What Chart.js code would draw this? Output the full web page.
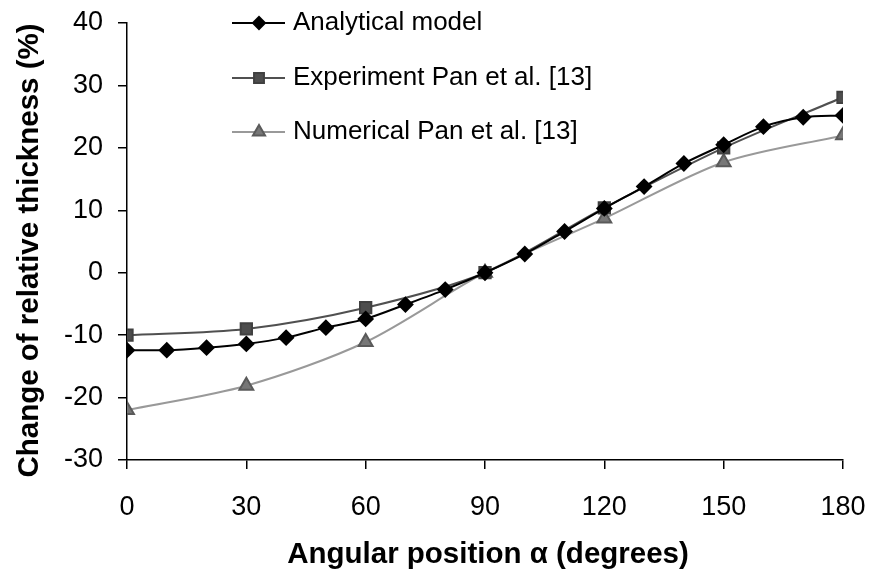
<!DOCTYPE html>
<html>
<head>
<meta charset="utf-8">
<script src="https://cdn.jsdelivr.net/npm/chart.js@4/dist/chart.umd.min.js"></script>
<style>
  html, body { margin: 0; padding: 0; background: #fff; }
  #wrap { width: 872px; height: 573px; }
</style>
</head>
<body>
<div id="wrap"><canvas id="myChart" width="872" height="573"></canvas></div>
<script>
// angoli in gradi
const analyticalAngles = [0, 10, 20, 30, 40, 50, 60, 70, 80, 90, 100, 110, 120, 130, 140, 150, 160, 170, 180];
const analyticalValues = [-12.4, -12.4, -12.0, -11.4, -10.4, -8.8, -7.4, -5.1, -2.7, 0, 3.0, 6.6, 10.3, 13.8, 17.5, 20.5, 23.4, 24.9, 25.2];

const panAngles = [0, 30, 60, 90, 120, 150, 180];
const experimentValues = [-10.0, -9.0, -5.6, 0, 10.4, 20.0, 28.1];
const numericalValues = [-22.0, -18.1, -11.1, 0, 8.7, 17.7, 22.0];

const seriesNames = ['Analytical model', 'Experiment Pan et al. [13]', 'Numerical Pan et al. [13]'];
const xTitle = 'Angular position α (degrees)';
const yTitle = 'Change of relative thickness (%)';

const xTicks = [0, 30, 60, 90, 120, 150, 180];
const yTicks = [-30, -20, -10, 0, 10, 20, 30, 40];

const FONT = '"Liberation Sans", Arial, sans-serif';

const toPoints = (xs, ys) => xs.map((x, i) => ({ x: x, y: ys[i] }));

// legenda e titoli degli assi disegnati a mano
const decorations = {
  id: 'decorations',
  afterDraw(chart) {
    const ctx = chart.ctx;
    const area = chart.chartArea;
    const left = area.left + 105;
    const rows = [23, 78, 132];
    ctx.save();
    chart.data.datasets.forEach((ds, i) => {
      const y = rows[i];
      ctx.strokeStyle = ds.borderColor;
      ctx.lineWidth = ds.borderWidth;
      ctx.beginPath();
      ctx.moveTo(left, y);
      ctx.lineTo(left + 53, y);
      ctx.stroke();
      ctx.fillStyle = ds.pointBackgroundColor;
      ctx.strokeStyle = ds.pointBorderColor;
      Chart.helpers.drawPoint(ctx, {
        pointStyle: ds.pointStyle,
        radius: ds.pointRadius - 1,
        rotation: 0,
        borderWidth: 1
      }, left + 27, y);
      ctx.fillStyle = '#000';
      ctx.font = '26px ' + FONT;
      ctx.textAlign = 'left';
      ctx.textBaseline = 'middle';
      ctx.fillText(ds.label, left + 61, y);
    });

    // titoli, centrati sull'area del grafico
    ctx.fillStyle = '#000';
    ctx.font = 'bold 29.5px ' + FONT;
    ctx.textAlign = 'center';
    ctx.textBaseline = 'middle';
    ctx.fillText(xTitle, (area.left + area.right) / 2 + 3, 555);

    ctx.translate(30, (area.top + area.bottom) / 2 + 9);
    ctx.rotate(-Math.PI / 2);
    ctx.fillText(yTitle, 0, 0);
    ctx.restore();
  }
};

const tickFont = { family: FONT, size: 27 };

new Chart(document.getElementById('myChart').getContext('2d'), {
  type: 'line',
  data: {
    datasets: [{
      label: seriesNames[0],
      data: toPoints(analyticalAngles, analyticalValues),
      borderColor: '#000000',
      borderWidth: 2,
      pointStyle: 'rectRot',
      pointRadius: 7,
      pointBackgroundColor: '#000000',
      pointBorderColor: '#000000',
      tension: 0.3,
      order: 1
    },
    {
      label: seriesNames[1],
      data: toPoints(panAngles, experimentValues),
      borderColor: '#505050',
      borderWidth: 2,
      pointStyle: 'rect',
      pointRadius: 8,
      pointBackgroundColor: '#4d4d4d',
      pointBorderColor: '#404040',
      tension: 0.3,
      order: 2
    },
    {
      label: seriesNames[2],
      data: toPoints(panAngles, numericalValues),
      borderColor: '#999999',
      borderWidth: 2,
      pointStyle: 'triangle',
      pointRadius: 8,
      pointBackgroundColor: '#777777',
      pointBorderColor: '#5a5a5a',
      tension: 0.3,
      order: 3
    }]
  },
  options: {
    responsive: false,
    animation: false,
    layout: { padding: { top: 23, right: 29, bottom: 0, left: 0 } },
    plugins: {
      legend: { display: false },
      tooltip: { enabled: false }
    },
    scales: {
      x: {
        type: 'linear',
        min: 0,
        max: 180,
        afterBuildTicks: axis => { axis.ticks = xTicks.map(v => ({ value: v })); },
        afterFit: axis => { axis.height = 113; axis.paddingLeft = 0; axis.paddingRight = 0; },
        border: { color: '#000', width: 1.5 },
        grid: { drawOnChartArea: false, tickLength: 9, color: '#000', lineWidth: 1.5 },
        ticks: { color: '#000', font: tickFont, padding: 22, maxRotation: 0 },
        title: { display: false }
      },
      y: {
        min: -30,
        max: 40,
        afterBuildTicks: axis => { axis.ticks = yTicks.map(v => ({ value: v })); },
        afterFit: axis => { axis.width = 127; axis.paddingTop = 0; axis.paddingBottom = 0; },
        border: { color: '#000', width: 1.5 },
        grid: { drawOnChartArea: false, tickLength: 9, color: '#000', lineWidth: 1.5 },
        ticks: { color: '#000', font: tickFont, padding: 15 },
        title: { display: false }
      }
    }
  },
  plugins: [decorations]
});
</script>
</body>
</html>
